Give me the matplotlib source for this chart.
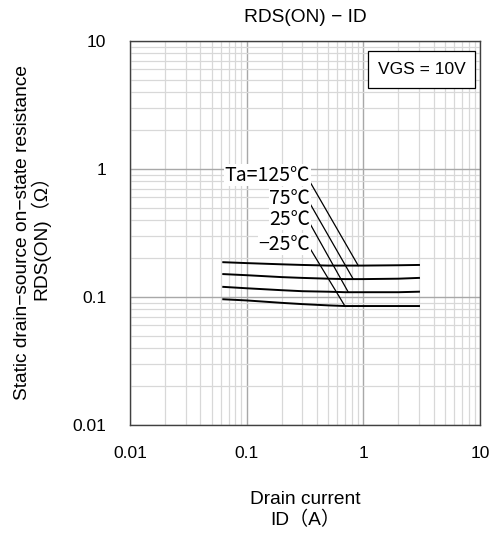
"""RDS(ON) - ID characteristic"""
import matplotlib
matplotlib.use('Agg')
import matplotlib.pyplot as plt
from matplotlib.patches import Rectangle
from matplotlib.ticker import LogLocator, FixedLocator, NullFormatter

plt.rcParams['font.family'] = ['Liberation Sans', 'Noto Sans CJK JP', 'DejaVu Sans']

# drain current, A
drain_current = [0.063, 0.1, 0.2, 0.3, 0.5, 0.7, 1, 2, 3]

# on-resistance, Ohm
rds_125 = [0.187, 0.184, 0.180, 0.178, 0.176, 0.176, 0.176, 0.177, 0.178]
rds_75 = [0.151, 0.148, 0.143, 0.141, 0.139, 0.138, 0.138, 0.139, 0.141]
rds_25 = [0.120, 0.117, 0.113, 0.111, 0.110, 0.109, 0.109, 0.109, 0.110]
rds_m25 = [0.096, 0.094, 0.090, 0.088, 0.086, 0.085, 0.085, 0.085, 0.085]

labels = ['Ta=125℃', '75℃', '25℃', '−25℃']
label_y = [0.897, 0.59, 0.405, 0.258]
leader_start_y = [0.846, 0.573, 0.40, 0.255]
leader_end_x = [0.904, 0.819, 0.743, 0.695]

ticks = [0.01, 0.1, 1, 10]
tick_labels = ['0.01', '0.1', '1', '10']

fig = plt.figure(figsize=(4.91, 5.37), dpi=100)
ax = fig.add_axes([130 / 491, 1 - 425 / 537, 350 / 491, 384 / 537])

ax.set_xscale('log')
ax.set_yscale('log')
ax.set_xlim(0.01, 10)
ax.set_ylim(0.01, 10)

ax.xaxis.set_major_locator(FixedLocator(ticks))
ax.yaxis.set_major_locator(FixedLocator(ticks))
ax.set_xticklabels(tick_labels)
ax.set_yticklabels(tick_labels)
ax.xaxis.set_minor_locator(LogLocator(base=10, subs=range(2, 10)))
ax.yaxis.set_minor_locator(LogLocator(base=10, subs=range(2, 10)))
ax.xaxis.set_minor_formatter(NullFormatter())
ax.yaxis.set_minor_formatter(NullFormatter())
ax.tick_params(which='both', length=0, labelsize=12.5, colors='black')
ax.tick_params(axis='x', pad=15)
ax.tick_params(axis='y', pad=17)

ax.grid(True, which='major', color='#a8a8a8', linewidth=1.0)
ax.grid(True, which='minor', color='#d8d8d8', linewidth=0.9)
ax.set_axisbelow(True)
for sp in ax.spines.values():
    sp.set_color('#404040')
    sp.set_linewidth(1.0)

series = [rds_125, rds_75, rds_25, rds_m25]
for ys in series:
    ax.plot(drain_current, ys, color='black', linewidth=1.4)

for lab, ly, sy, ex, ys in zip(labels, label_y, leader_start_y,
                               leader_end_x, series):
    ax.text(0.35, ly, lab, ha='right', va='center', fontsize=14,
            family=['Noto Sans CJK JP', 'DejaVu Sans'],
            bbox=dict(facecolor='white', edgecolor='none', pad=0.3))
    # leader from label to curve
    i = min(range(len(drain_current)),
            key=lambda k: abs(drain_current[k] - ex))
    ax.plot([0.335, ex], [sy, ys[i]], color='black', linewidth=0.9)

# condition box
ax.add_patch(Rectangle((0.68, 0.878), 0.306, 0.096, transform=ax.transAxes,
                       facecolor='white', edgecolor='black', linewidth=0.9,
                       zorder=5))
ax.text(0.833, 0.926, 'VGS = 10V', transform=ax.transAxes,
        ha='center', va='center', fontsize=12.5, zorder=6)

ax.set_title('RDS(ON) − ID', fontsize=13.8, pad=14)
ax.set_xlabel('Drain current\nID（A）', fontsize=13.8, labelpad=22,
              linespacing=1.15)
ax.set_ylabel('Static drain−source on−state resistance\nRDS(ON)（Ω）',
              fontsize=13.8, labelpad=16, linespacing=0.95)

fig.savefig('out.png', dpi=100)
